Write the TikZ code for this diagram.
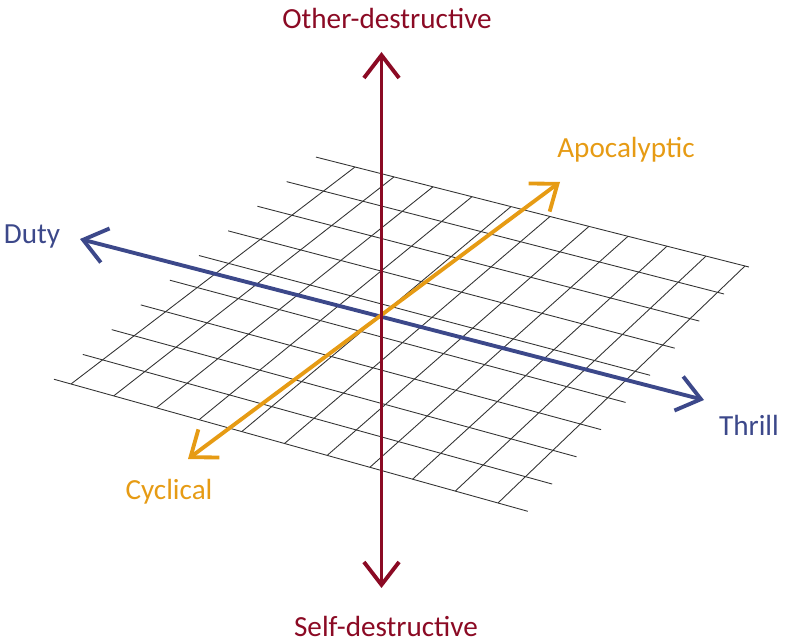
\documentclass[tikz,border=0pt]{standalone}
\usepackage{fontspec}
\setmainfont{Carlito}
\usetikzlibrary{calc,arrows.meta}
\definecolor{axisred}{RGB}{139,10,36}
\definecolor{axisblue}{RGB}{60,72,138}
\definecolor{axisorange}{RGB}{230,155,20}

\begin{document}
\begin{tikzpicture}[x=0.02cm, y=-0.02cm,
        gridline/.style={line width=0.5pt, black!80},
        axis/.style={line width=2.2pt, line cap=round,
            {Straight Barb[length=13pt,width=20pt]}-{Straight Barb[length=13pt,width=20pt]}},
        axislabel/.style={font=\fontsize{16.6}{20}\selectfont, inner sep=0pt}
    ]
        \useasboundingbox (0,0) rectangle (785,641);

        % Grid
        \coordinate (tl) at (355,167);
        \coordinate (tr) at (745,266);
        \coordinate (bl) at (71,384);
        \coordinate (br) at (498,503);
        \foreach \i in {0,...,9}{
            \pgfmathsetmacro{\lext}{-0.10+0.06*\i/9}
            \pgfmathsetmacro{\rext}{1.01+0.06*\i/9}
            \coordinate (l) at ($(tl)!\i/9!(bl)$);
            \coordinate (r) at ($(tr)!\i/9!(br)$);
            \draw[gridline] ($(l)!\lext!(r)$) -- ($(l)!\rext!(r)$);
        }
        \foreach \j in {0,...,10}
            \draw[gridline] ($(tl)!\j/10!(tr)$) -- ($(bl)!\j/10!(br)$);

        % Axis ends
        \coordinate (other) at (381.5,52);
        \coordinate (self) at (381.5,588);
        \coordinate (duty) at (80,239);
        \coordinate (thrill) at (704,400);
        \coordinate (apoc) at (560,182);
        \coordinate (cycl) at (188,459);

        % Axes
        \draw[axis, axisblue] (duty) -- (thrill);
        \draw[axis, axisorange] (cycl) -- (apoc);
        \draw[axis, axisred] (self) -- (other);

        % Labels
        \node[axislabel, text=axisred] (otherlabel) at (387,18) {Other-destructive};
        \node[axislabel, text=axisred] (selflabel) at (386,626) {Self-destructive};
        \node[axislabel, text=axisblue] (dutylabel) at (32,236) {Duty};
        \node[axislabel, text=axisblue] (thrilllabel) at (749,425) {Thrill};
        \node[axislabel, text=axisorange] (apoclabel) at (626,150) {Apocalyptic};
        \node[axislabel, text=axisorange] (cycllabel) at (169,492) {Cyclical};

    \end{tikzpicture}
\end{document}
